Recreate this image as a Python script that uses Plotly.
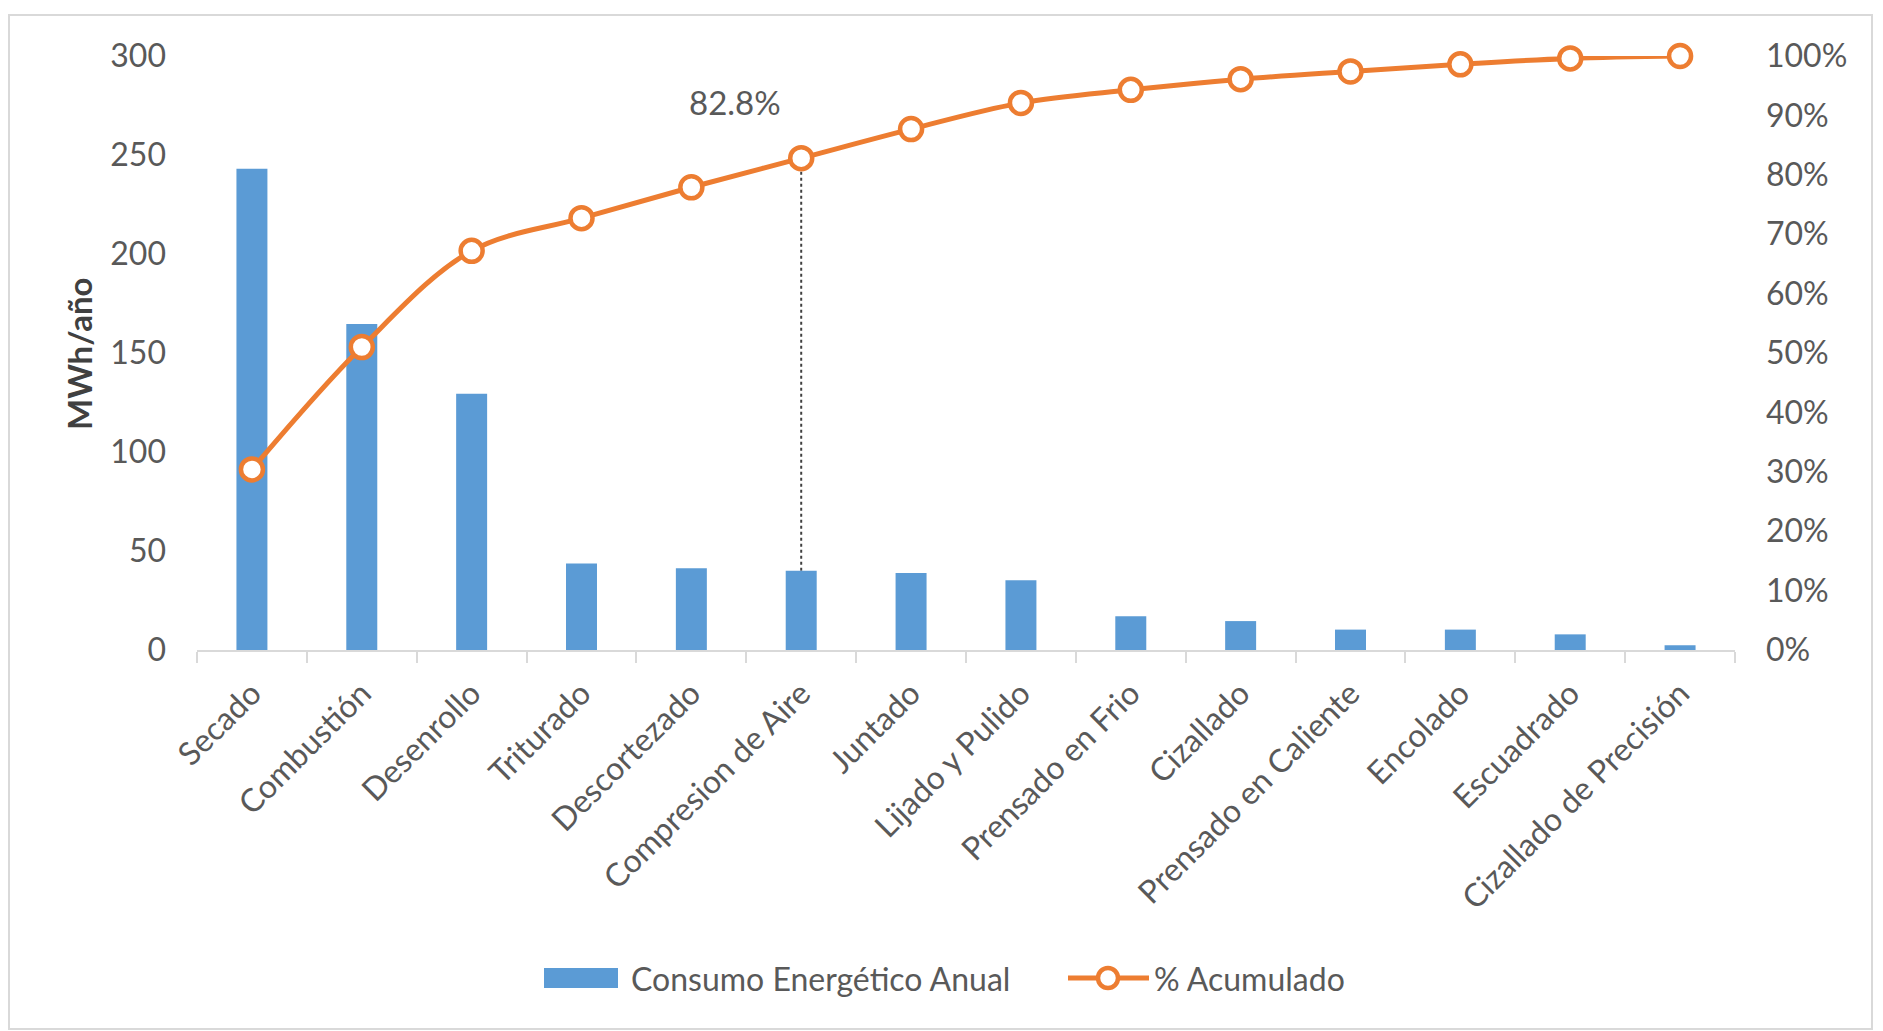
import plotly.graph_objects as go

# Pareto data: annual energy consumption per process and cumulative share
procesos = [
    "Secado", "Combustión", "Desenrollo", "Triturado", "Descortezado",
    "Compresion de Aire", "Juntado", "Lijado y Pulido", "Prensado en Frio",
    "Cizallado", "Prensado en Caliente", "Encolado", "Escuadrado",
    "Cizallado de Precisión",
]
consumo_mwh = [243, 164.6, 129.4, 43.7, 41.3, 40.0, 38.9, 35.2, 17.0, 14.6, 10.3, 10.3, 7.9, 2.4]
acumulado_pct = [30.4, 51.0, 67.2, 72.7, 77.9, 82.8, 87.7, 92.1, 94.3, 96.1, 97.4, 98.6, 99.6, 100.0]
corte_idx = 5  # process where the cumulative share crosses 80 %

y_ticks = [0, 50, 100, 150, 200, 250, 300]
y2_ticks = list(range(0, 101, 10))
y2_labels = [f"{v}%" for v in y2_ticks]

BLUE = "#5B9BD5"
ORANGE = "#ED7D31"
GRAY_TXT = "#595959"
AXIS_GRAY = "#D9D9D9"
FONT = "Lato"
FS = 32

W, H = 1883, 1031
ML, MR, MT, MB = 197, 148, 56, 381
PW, PH = W - ML - MR, H - MT - MB


def px_x(x):
    return (x - ML) / PW


def px_y(y):
    return (H - MB - y) / PH


fig = go.Figure()

fig.add_trace(go.Bar(
    x=procesos, y=consumo_mwh, name="Consumo Energético Anual",
    marker=dict(color=BLUE, line=dict(width=0)), yaxis="y",
    showlegend=False,
))

fig.add_trace(go.Scatter(
    x=procesos, y=acumulado_pct, name="% Acumulado", yaxis="y2",
    mode="lines+markers", line=dict(color=ORANGE, width=5, shape="spline"),
    marker=dict(symbol="circle", size=22, color="white",
                line=dict(color=ORANGE, width=4.5)),
    cliponaxis=False, showlegend=False,
))

# dotted drop line from the 80 % crossing point to its bar
fig.add_shape(
    type="line", xref="x", yref="y", layer="below",
    x0=procesos[corte_idx], x1=procesos[corte_idx],
    y0=consumo_mwh[corte_idx], y1=acumulado_pct[corte_idx] * y_ticks[-1] / 100,
    line=dict(color="#404040", width=2, dash="dot"),
)

fig.add_annotation(
    x=procesos[corte_idx], y=acumulado_pct[corte_idx], xref="x", yref="y2",
    text=f"{acumulado_pct[corte_idx]:.1f}%", showarrow=False,
    xanchor="center", yanchor="middle",
    xshift=-66, yshift=56, font=dict(family=FONT, size=33, color=GRAY_TXT),
)

# y-axis title
fig.add_annotation(
    x=px_x(79), y=px_y(354), xref="paper", yref="paper",
    xanchor="center", yanchor="middle",
    text="<b>MWh/año</b>", textangle=-90, showarrow=False,
    font=dict(family=FONT, size=33, color="#404040"),
)

# chart frame
fig.add_shape(
    type="rect", xref="paper", yref="paper",
    x0=px_x(9), x1=px_x(1872), y0=px_y(1029), y1=px_y(15),
    line=dict(color=AXIS_GRAY, width=2), fillcolor="rgba(0,0,0,0)",
)

# legend
leg_y = 978
fig.add_shape(
    type="rect", xref="paper", yref="paper",
    x0=px_x(544), x1=px_x(618), y0=px_y(988), y1=px_y(968),
    line=dict(width=0), fillcolor=BLUE,
)
fig.add_annotation(
    x=px_x(629), y=px_y(leg_y), xref="paper", yref="paper",
    xanchor="left", yanchor="middle", showarrow=False,
    text="Consumo Energético Anual",
    font=dict(family=FONT, size=FS, color=GRAY_TXT),
)
fig.add_shape(
    type="line", xref="paper", yref="paper",
    x0=px_x(1068), x1=px_x(1149), y0=px_y(leg_y), y1=px_y(leg_y),
    line=dict(color=ORANGE, width=5),
)
fig.add_shape(
    type="circle", xref="paper", yref="paper",
    xsizemode="pixel", ysizemode="pixel",
    xanchor=px_x(1108), yanchor=px_y(leg_y),
    x0=-10, x1=10, y0=-10, y1=10,
    line=dict(color=ORANGE, width=4.5), fillcolor="white",
)
fig.add_annotation(
    x=px_x(1152), y=px_y(leg_y), xref="paper", yref="paper",
    xanchor="left", yanchor="middle", showarrow=False,
    text="% Acumulado",
    font=dict(family=FONT, size=FS, color=GRAY_TXT),
)

fig.update_layout(
    width=W, height=H,
    margin=dict(l=ML, r=MR, t=MT, b=MB, autoexpand=False),
    paper_bgcolor="white", plot_bgcolor="white",
    bargap=0.718,
    font=dict(family=FONT, size=FS, color=GRAY_TXT),
    xaxis=dict(
        type="category", range=[-0.5, len(procesos) - 0.5],
        showline=True, linecolor=AXIS_GRAY, linewidth=2,
        ticks="outside", ticklen=11, tickcolor=AXIS_GRAY, tickwidth=2,
        tickson="boundaries", tickangle=-45, showgrid=False, zeroline=False,
        ticklabelstandoff=10,
        tickfont=dict(family=FONT, size=FS, color=GRAY_TXT),
        fixedrange=True,
    ),
    yaxis=dict(
        range=[0, y_ticks[-1]], tickvals=y_ticks, showgrid=False,
        zeroline=False, showline=False, ticks="", ticklabelstandoff=30,
        tickfont=dict(family=FONT, size=FS, color=GRAY_TXT),
    ),
    yaxis2=dict(
        range=[0, 100], tickvals=y2_ticks, ticktext=y2_labels,
        overlaying="y", side="right", showgrid=False, zeroline=False,
        showline=False, ticks="", ticklabelstandoff=30,
        tickfont=dict(family=FONT, size=FS, color=GRAY_TXT),
    ),
    showlegend=False,
)

fig.write_html("out.html")
